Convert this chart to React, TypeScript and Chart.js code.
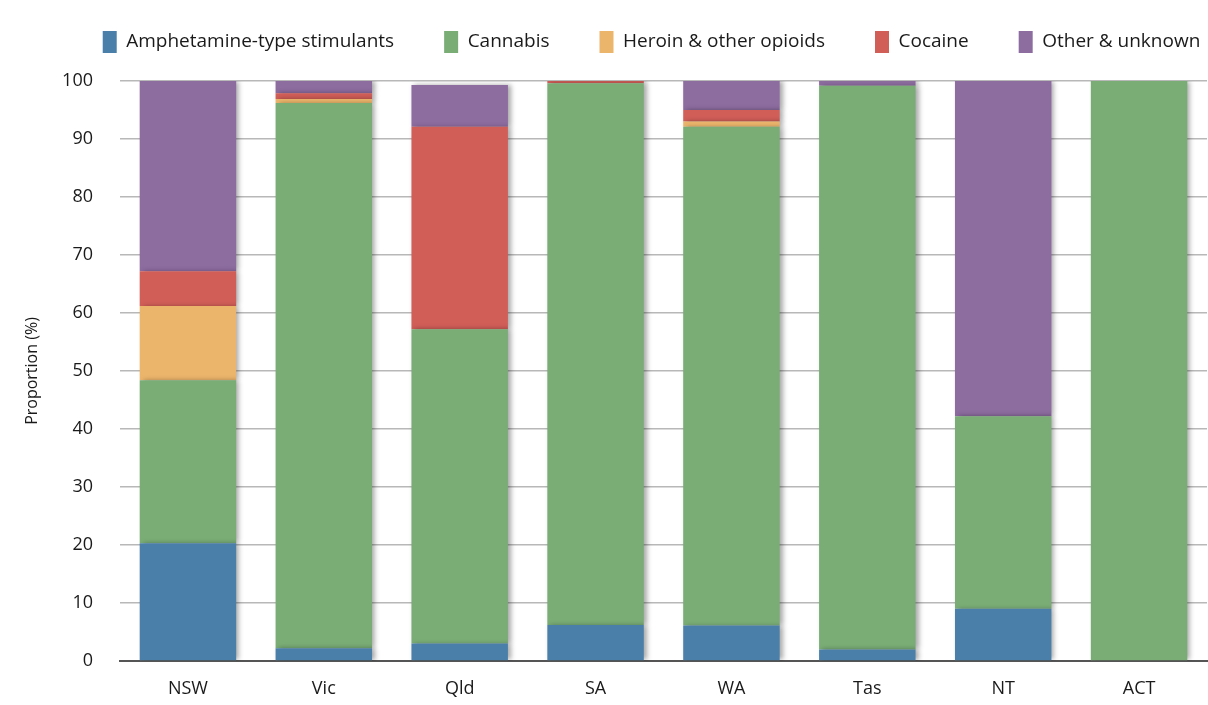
import React, { useEffect, useRef } from "react";
import { Chart, registerables } from "chart.js";

Chart.register(...registerables);

const categories = ["NSW", "Vic", "Qld", "SA", "WA", "Tas", "NT", "ACT"];
const amphetamines = [20.3, 2.2, 3.0, 6.2, 6.1, 2.0, 9.0, 0];
const cannabis = [28.1, 94.0, 54.2, 93.4, 86.0, 97.2, 33.2, 100];
const heroin = [12.8, 0.7, 0, 0, 0.9, 0, 0, 0];
const cocaine = [6.0, 1.0, 34.9, 0.4, 2.0, 0, 0, 0];
const other = [32.8, 2.1, 7.2, 0, 5.0, 0.8, 57.8, 0];
const yTicks = [0, 10, 20, 30, 40, 50, 60, 70, 80, 90, 100];

const FONT = "'Open Sans', 'DejaVu Sans', sans-serif";

const shadowPlugin = {
  id: "barShadow",
  beforeDatasetsDraw(chart: any) {
    const ctx = chart.ctx;
    ctx.save();
    ctx.shadowColor = "rgba(0,0,0,0.35)";
    ctx.shadowBlur = 5;
    ctx.shadowOffsetX = 3;
    ctx.shadowOffsetY = 0;
  },
  afterDatasetsDraw(chart: any) {
    chart.ctx.restore();
  },
};

const legendAdjustPlugin = {
  id: "legendAdjust",
  beforeInit(chart: any) {
    const legend = chart.legend;
    if (!legend) return;
    const origFit = legend.fit.bind(legend);
    legend.fit = function () {
      origFit();
      this.height -= 7;
    };
    const origDraw = legend.draw.bind(legend);
    legend.draw = function () {
      const ctx = chart.ctx;
      ctx.save();
      ctx.translate(48, -25);
      origDraw();
      ctx.restore();
    };
  },
};

export default function App() {
  const ref = useRef<HTMLCanvasElement | null>(null);

  useEffect(() => {
    document.body.style.margin = "0";
    document.body.style.background = "#ffffff";
    const canvas = ref.current;
    if (!canvas) return;
    const mk = (label: string, data: number[], color: string) => ({
      label,
      data,
      backgroundColor: color,
      borderWidth: 0,
      barPercentage: 0.71,
      categoryPercentage: 1,
    });
    const chart = new Chart(canvas, {
      type: "bar",
      data: {
        labels: categories,
        datasets: [
          mk("Amphetamine-type stimulants", amphetamines, "#4a7fa9"),
          mk("Cannabis", cannabis, "#7aad76"),
          mk("Heroin & other opioids", heroin, "#ecb56c"),
          mk("Cocaine", cocaine, "#d25e58"),
          mk("Other & unknown", other, "#8d6ca0"),
        ],
      },
      options: {
        responsive: false,
        animation: false,
        maintainAspectRatio: false,
        layout: { padding: { left: 0, right: 1, top: 6, bottom: 0 } },
        plugins: {
          legend: {
            position: "top",
            align: "center",
            labels: {
              font: { family: FONT, size: 19 },
              color: "#1a1a1a",
              boxWidth: 14,
              boxHeight: 22,
              padding: 50,
            },
          },
          tooltip: { enabled: false },
        },
        scales: {
          x: {
            stacked: true,
            grid: { display: false, drawTicks: false },
            border: { display: true, color: "#555", width: 2 },
            ticks: {
              font: { family: FONT, size: 18 },
              color: "#1a1a1a",
              padding: 17,
            },
            afterFit: (s: any) => {
              s.height = 44;
            },
          },
          y: {
            stacked: true,
            min: 0,
            max: 100,
            afterBuildTicks: (s: any) => {
              s.ticks = yTicks.map((v) => ({ value: v }));
            },
            grid: { color: "#b8b8b8", lineWidth: 1.5, drawTicks: false },
            border: { display: false },
            ticks: {
              font: { family: FONT, size: 18 },
              color: "#1a1a1a",
              padding: 27,
            },
            title: {
              display: true,
              text: "Proportion (%)",
              font: { family: FONT, size: 16 },
              color: "#1a1a1a",
              padding: { top: 23, bottom: 0 },
            },
            afterFit: (s: any) => {
              s.width = 120;
            },
          },
        },
      },
      plugins: [shadowPlugin, legendAdjustPlugin],
    });
    return () => chart.destroy();
  }, []);

  return <canvas ref={ref} width={1208} height={705} style={{ display: "block" }} />;
}
